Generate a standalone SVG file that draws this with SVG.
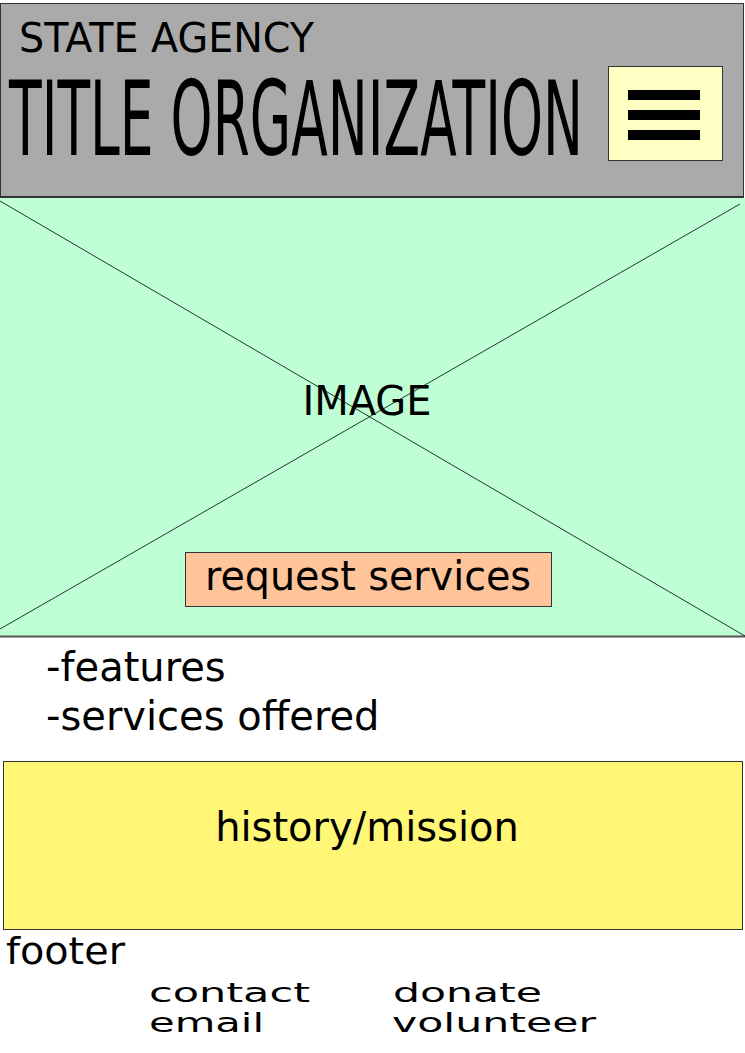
<svg xmlns="http://www.w3.org/2000/svg" width="745" height="1053" viewBox="0 0 745 1053">
  <style>
    text { font-family: "DejaVu Sans", "Liberation Sans", sans-serif; fill: #000; }
    .box { stroke: #333; stroke-width: 1; }
    .lbl { font-size: 40px; }
    .link { font-size: 26px; }
  </style>
  <rect x="0" y="0" width="745" height="1053" fill="#ffffff"/>

  <!-- header bar -->
  <g id="header">
    <rect class="box" x="0.5" y="3.5" width="743" height="194" fill="#aaaaaa"/>
    <text x="19" y="52" font-size="40" textLength="295" lengthAdjust="spacingAndGlyphs">STATE AGENCY</text>
    <text x="9" y="155" font-size="103" textLength="574" lengthAdjust="spacingAndGlyphs">TITLE ORGANIZATION</text>
  </g>

  <!-- menu button -->
  <g id="menu">
    <rect class="box" x="608.5" y="66.5" width="114" height="94" fill="#ffffc4"/>
    <rect x="628" y="90" width="72" height="10" fill="#000"/>
    <rect x="628" y="110" width="72" height="10" fill="#000"/>
    <rect x="628" y="130" width="72" height="10" fill="#000"/>
  </g>

  <!-- hero image placeholder -->
  <g id="image">
    <rect x="0" y="198" width="745" height="439" fill="#bfffd6"/>
    <line x1="0" y1="636.5" x2="745" y2="636.5" stroke="#555" stroke-width="2"/>
    <line x1="0" y1="197" x2="743" y2="197" stroke="#333" stroke-width="2"/>
    <line x1="0" y1="201" x2="745" y2="636" stroke="#000" stroke-width="0.8"/>
    <line x1="740" y1="204" x2="0" y2="629" stroke="#000" stroke-width="0.8"/>
    <text class="lbl" x="367" y="415" text-anchor="middle">IMAGE</text>
  </g>

  <!-- call to action -->
  <g id="request">
    <rect class="box" x="185.5" y="552.5" width="366" height="54" fill="#ffc499"/>
    <text class="lbl" x="368" y="590" text-anchor="middle" textLength="326" lengthAdjust="spacingAndGlyphs">request services</text>
  </g>

  <!-- feature list -->
  <g id="features">
    <text class="lbl" x="46" y="681">-features</text>
    <text class="lbl" x="46" y="730">-services offered</text>
  </g>

  <!-- history block -->
  <g id="history">
    <rect class="box" x="3.5" y="761.5" width="739" height="168" fill="#fff775"/>
    <text class="lbl" x="367" y="841" text-anchor="middle">history/mission</text>
  </g>

  <!-- footer -->
  <g id="footer">
    <text x="6" y="964" font-size="38" textLength="119" lengthAdjust="spacingAndGlyphs">footer</text>
    <text class="link" x="149" y="1002" textLength="161" lengthAdjust="spacingAndGlyphs">contact</text>
    <text class="link" x="149" y="1032" textLength="115" lengthAdjust="spacingAndGlyphs">email</text>
    <text class="link" x="393" y="1002" textLength="149" lengthAdjust="spacingAndGlyphs">donate</text>
    <text class="link" x="392" y="1032" textLength="204" lengthAdjust="spacingAndGlyphs">volunteer</text>
  </g>

  <!-- no connectors in this layout -->
  <g id="connectors"/>
</svg>
